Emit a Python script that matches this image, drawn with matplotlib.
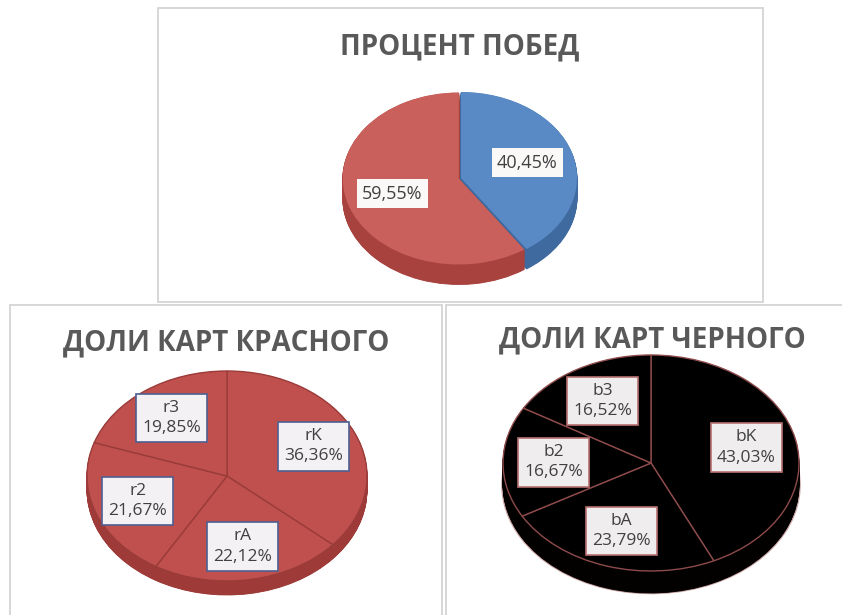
import numpy as np
import matplotlib.pyplot as plt
from matplotlib.patches import Rectangle

plt.rcParams['font.family'] = ['Open Sans', 'DejaVu Sans']

W, H = 842, 615

# data
win_names = ['Черные', 'Красные']
win_values = [40.45, 59.55]
red_names = ['rK', 'rA', 'r2', 'r3']
red_values = [36.36, 22.12, 21.67, 19.85]
black_names = ['bK', 'bA', 'b2', 'b3']
black_values = [43.03, 23.79, 16.67, 16.52]


def fmt(v):
    return f"{v:.2f}%".replace('.', ',')


fig = plt.figure(figsize=(8.42, 6.15), dpi=100)


def frame(x0, y0, x1, y1):
    fig.patches.append(Rectangle((x0 / W, 1 - y1 / H), (x1 - x0) / W, (y1 - y0) / H,
                                 transform=fig.transFigure, fill=False,
                                 edgecolor='#D4D4D4', lw=1.3))


def pie3d(cx, cy, rx, ry, depth, values, top_colors, side_colors, edge, lw,
          explode=None, pctdist=0.65, steps=30, rim=None):
    pad = 1.08
    left, right = cx - pad * rx, cx + pad * rx
    top, bottom = cy - pad * ry, cy + pad * ry + depth
    ax = fig.add_axes([left / W, 1 - bottom / H, (right - left) / W, (bottom - top) / H])
    d = depth / ry
    if rim:
        # faint halo round the bottom of the side
        ax.pie(values, colors=[rim] * len(values), startangle=90, counterclock=False,
               center=(0, -d), radius=1.012, wedgeprops=dict(linewidth=0))
    for t in np.linspace(d, 0, steps)[:-1]:
        side, _ = ax.pie(values, colors=side_colors, startangle=90, counterclock=False,
                         center=(0, -t), explode=explode, wedgeprops=dict(linewidth=0.6))
        for w, c in zip(side, side_colors):
            w.set_edgecolor(c)
    wedges, _, autotexts = ax.pie(values, colors=top_colors, startangle=90,
                                  counterclock=False, explode=explode,
                                  autopct='%1.2f%%', pctdistance=pctdist,
                                  wedgeprops=dict(edgecolor=edge, linewidth=lw))
    ax.set_aspect('auto')
    ax.set_xlim(-pad, pad)
    ax.set_ylim(-pad - d, pad)
    ax.axis('off')
    return ax, autotexts


frame(158, 8, 763, 302)
frame(10, 305, 442, 620)
frame(446, 305, 846, 620)

title_kw = dict(ha='center', va='center', fontsize=20, fontweight='bold', color='#595959')
fig.text(460 / W, 1 - 47 / H, 'ПРОЦЕНТ ПОБЕД', **title_kw)
fig.text(226 / W, 1 - 343 / H, 'ДОЛИ КАРТ КРАСНОГО', **title_kw)
fig.text(652 / W, 1 - 340 / H, 'ДОЛИ КАРТ ЧЕРНОГО', **title_kw)

# top chart: win percentage
ax, texts = pie3d(461, 178, 116, 86, 20, win_values,
                  ['#5A8AC6', '#C9605C'], ['#3F6A9F', '#A8423F'],
                  'none', 0, explode=[0, 0.02], pctdist=0.6)
for txt, v in zip(texts, win_values):
    txt.set_text(fmt(v))
    txt.set(fontsize=13, color='#404040',
            bbox=dict(boxstyle='square,pad=0.3', fc='#FBF8F8', ec='none'))

# bottom left: red cards
ax, texts = pie3d(227, 476, 140, 105, 14, red_values,
                  ['#C0504D'] * 4, ['#9E3B38'] * 4, '#9A3C3A', 1.0, pctdist=0.68)
for txt, n, v in zip(texts, red_names, red_values):
    txt.set_text(n + '\n' + fmt(v))
    txt.set(fontsize=12.5, color='#404040', linespacing=1.35,
            bbox=dict(boxstyle='square,pad=0.35', fc='#F4F1F4', ec='#4E5F91', lw=1.2))

# bottom right: black cards
ax, texts = pie3d(651, 463, 148, 108, 22, black_values,
                  ['#000000'] * 4, ['#030000'] * 4, '#8E4B4B', 1.0, pctdist=0.66,
                  rim='#C9A3A3')
for txt, n, v in zip(texts, black_names, black_values):
    txt.set_text(n + '\n' + fmt(v))
    txt.set(fontsize=12.5, color='#404040', linespacing=1.35,
            bbox=dict(boxstyle='square,pad=0.35', fc='#EFEDED', ec='#B87070', lw=1.2))

plt.savefig('out.png', dpi=100)
